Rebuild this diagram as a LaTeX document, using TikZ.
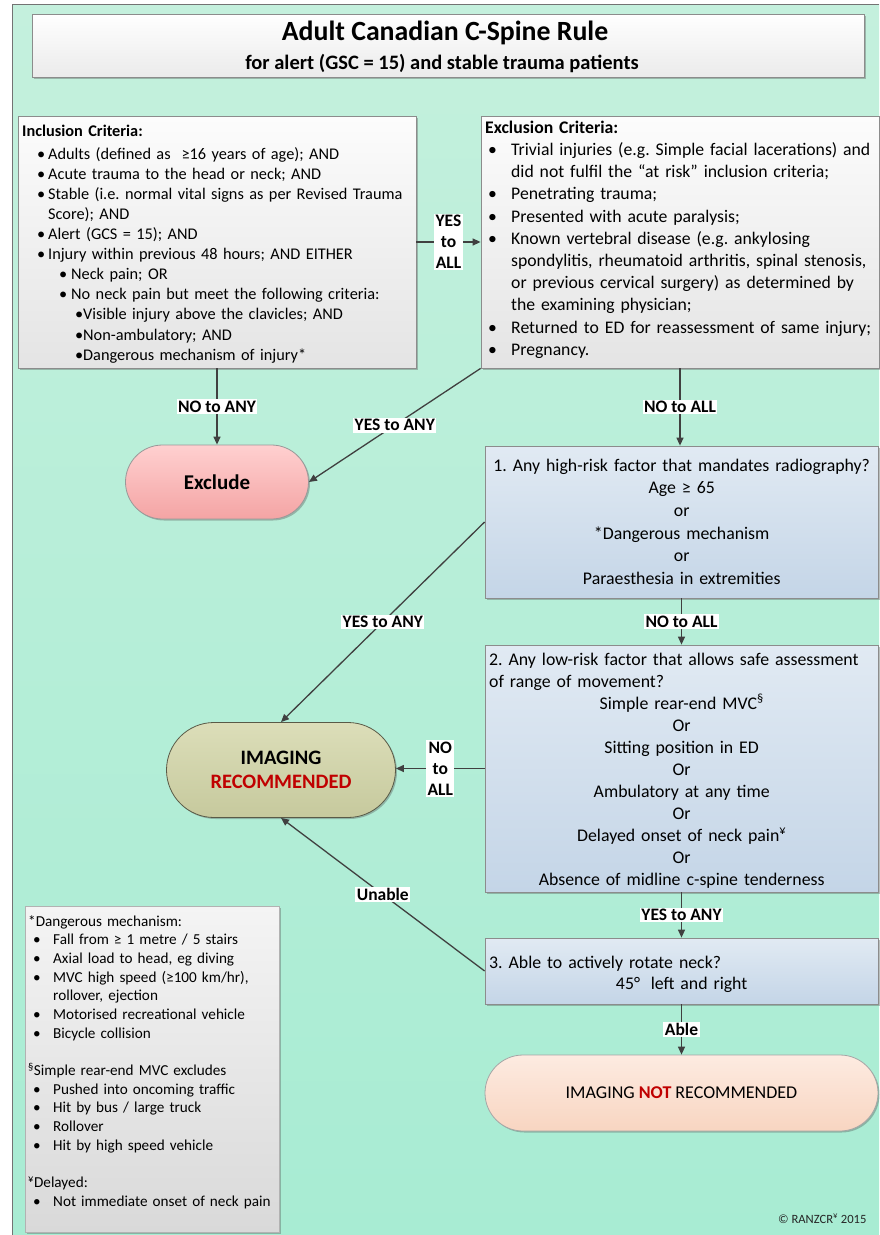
\documentclass[tikz,border=0pt]{standalone}
\usepackage{fontspec}
\setmainfont{Carlito}
\usetikzlibrary{arrows.meta,shapes.misc,shadows}
\definecolor{bgtop}{HTML}{C4F0DD}
\definecolor{bgbot}{HTML}{A8ECD3}
\definecolor{arrowc}{HTML}{404040}
\definecolor{recred}{HTML}{C00000}
\definecolor{graytop}{HTML}{FCFCFC}
\definecolor{graybot}{HTML}{E4E4E4}
\definecolor{bluetop}{HTML}{E1EAF3}
\definecolor{bluebot}{HTML}{C4D5E7}
\definecolor{pinktop}{HTML}{FFD0D0}
\definecolor{pinkbot}{HTML}{F4A4A4}
\definecolor{olivetop}{HTML}{DCDEB9}
\definecolor{olivebot}{HTML}{C6C99D}
\definecolor{peachtop}{HTML}{FDEBE1}
\definecolor{peachbot}{HTML}{F8D5C1}
\definecolor{fntop}{HTML}{F4F4F4}
\definecolor{fnbot}{HTML}{D9D9D9}
\newcommand\Ln[1]{\makebox[\linewidth][l]{#1}}
\newcommand\Cn[1]{\makebox[\linewidth][c]{#1}}
\newcommand\Bu[3]{\makebox[\linewidth][l]{\hspace*{#1}\makebox[#2][l]{\textbullet}#3}}
\newcommand\Ind[2]{\makebox[\linewidth][l]{\hspace*{#1}#2}}
\tikzset{
 shadowed/.style={drop shadow={shadow xshift=1.5pt,shadow yshift=-1.5pt,opacity=.35,fill=black!70}},
 panel/.style={rectangle, draw=black!45, line width=0.8pt, top color=graytop, bottom color=graybot, shadowed, inner sep=0pt},
 qbox/.style={rectangle, draw=black!45, line width=0.8pt, top color=bluetop, bottom color=bluebot, shadowed, inner sep=0pt},
 pill/.style={rounded rectangle, line width=0.8pt, inner sep=0pt, shadowed},
 txt/.style={anchor=north west, inner sep=0pt, align=left},
 arr/.style={draw=arrowc, line width=1.3pt, -{Triangle[length=8pt,width=7pt]}},
 lbl/.style={fill=white, inner sep=1.5pt, align=center, font=\bfseries\fontsize{17.5}{21}\selectfont, text=black},
}
\begin{document}
\frenchspacing
\begin{tikzpicture}[x=1pt,y=-1pt]
\useasboundingbox (0,0) rectangle (879,1235);
\fill[white] (0,0) rectangle (879,1235);
\shade[top color=bgtop,bottom color=bgbot] (12,4) rectangle (879,1235);
\draw[black!55, line width=0.8pt] (879,4) -- (12,4) -- (12,1235);

% title
\node[panel, minimum width=832pt, minimum height=63pt, top color=white, bottom color=black!8] (titlebox) at (448,45.5) {};
\node[anchor=base, font=\bfseries\fontsize{27.8}{30}\selectfont] (title) at (445,40) {Adult Canadian C-Spine Rule};
\node[anchor=base, font=\bfseries\fontsize{20.5}{24}\selectfont] (subtitle) at (442,69.5) {for alert (GSC = 15) and stable trauma patients};

% inclusion
\node[panel, minimum width=398pt, minimum height=252pt] (incl) at (217,242) {};
\node[txt, text width=390pt, font=\fontsize{16.3}{20.1}\selectfont] (incltxt) at (22,122) {%
\Ln{\rule{0pt}{14pt}\textbf{Inclusion Criteria:}}\\[2.8pt]
\Bu{15pt}{11pt}{Adults (defined as\ \ ≥16 years of age); AND}\\
\Bu{15pt}{11pt}{Acute trauma to the head or neck; AND}\\
\Bu{15pt}{11pt}{Stable (i.e. normal vital signs as per Revised Trauma}\\
\Ind{26pt}{Score); AND}\\
\Bu{15pt}{11pt}{Alert (GCS = 15); AND}\\
\Bu{15pt}{11pt}{Injury within previous 48 hours; AND EITHER}\\
\Bu{37pt}{12pt}{Neck pain; OR}\\
\Bu{37pt}{12pt}{No neck pain but meet the following criteria:}\\
\Bu{53pt}{8pt}{Visible injury above the clavicles; AND}\\
\Bu{53pt}{8pt}{Non-ambulatory; AND}\\
\Bu{53pt}{8pt}{Dangerous mechanism of injury*}};

% exclusion
\node[panel, minimum width=398pt, minimum height=252pt] (excl) at (680,242) {};
\node[txt, text width=390pt, font=\fontsize{17.7}{22.2}\selectfont] (excltxt) at (485,118) {%
\Ln{\rule{0pt}{15pt}\textbf{Exclusion Criteria:}}\\
\Bu{3pt}{23pt}{Trivial injuries (e.g. Simple facial lacerations) and}\\
\Ind{26pt}{did not fulfil the “at risk” inclusion criteria;}\\
\Bu{3pt}{23pt}{Penetrating trauma;}\\
\Bu{3pt}{23pt}{Presented with acute paralysis;}\\
\Bu{3pt}{23pt}{Known vertebral disease (e.g. ankylosing}\\
\Ind{26pt}{spondylitis, rheumatoid arthritis, spinal stenosis,}\\
\Ind{26pt}{or previous cervical surgery) as determined by}\\
\Ind{26pt}{the examining physician;}\\
\Bu{3pt}{23pt}{Returned to ED for reassessment of same injury;}\\
\Bu{3pt}{23pt}{Pregnancy.}};

% question boxes
\node[qbox, minimum width=393pt, minimum height=152pt] (q1) at (681.5,522) {};
\node[txt, text width=385pt, font=\fontsize{17.8}{22.6}\selectfont] (q1txt) at (489,456) {%
\Cn{\rule{0pt}{15pt}1. Any high-risk factor that mandates radiography?}\\
\Cn{Age ≥ 65}\\
\Cn{or}\\
\Cn{*Dangerous mechanism}\\
\Cn{or}\\
\Cn{Paraesthesia in extremities}};

\node[qbox, minimum width=393pt, minimum height=247pt] (q2) at (681.5,768.5) {};
\node[txt, text width=385pt, font=\fontsize{17.8}{22}\selectfont] (q2txt) at (489,650) {%
\Ln{\rule{0pt}{15pt}2. Any low-risk factor that allows safe assessment}\\
\Ln{of range of movement?}\\
\Cn{Simple rear-end MVC\textsuperscript{§}}\\
\Cn{Or}\\
\Cn{Sitting position in ED}\\
\Cn{Or}\\
\Cn{Ambulatory at any time}\\
\Cn{Or}\\
\Cn{Delayed onset of neck pain\textsuperscript{¥}}\\
\Cn{Or}\\
\Cn{Absence of midline c-spine tenderness}};

\node[qbox, minimum width=393pt, minimum height=66pt] (q3) at (681.5,971) {};
\node[txt, text width=385pt, font=\fontsize{17.8}{21}\selectfont] (q3txt) at (489,953) {%
\Ln{\rule{0pt}{15pt}3. Able to actively rotate neck?}\\
\Cn{45°\hspace{0.6em}left and right}};

% footnote box
\node[rectangle, draw=black!30, line width=0.8pt, top color=fntop, bottom color=fnbot, shadowed, minimum width=254pt, minimum height=326pt, inner sep=0pt] (foot) at (152,1069) {};
\node[txt, text width=248pt, font=\fontsize{15.2}{18.67}\selectfont] (foottxt) at (28,913) {%
\Ln{\rule{0pt}{13pt}*Dangerous mechanism:}\\
\Bu{5pt}{20pt}{Fall from ≥ 1 metre / 5 stairs}\\
\Bu{5pt}{20pt}{Axial load to head, eg diving}\\
\Bu{5pt}{20pt}{MVC high speed (≥100 km/hr),}\\
\Ind{25pt}{rollover, ejection}\\
\Bu{5pt}{20pt}{Motorised recreational vehicle}\\
\Bu{5pt}{20pt}{Bicycle collision}\\
\Ln{}\\
\Ln{\textsuperscript{§}Simple rear-end MVC excludes}\\
\Bu{5pt}{20pt}{Pushed into oncoming traffic}\\
\Bu{5pt}{20pt}{Hit by bus / large truck}\\
\Bu{5pt}{20pt}{Rollover}\\
\Bu{5pt}{20pt}{Hit by high speed vehicle}\\
\Ln{}\\
\Ln{\textsuperscript{¥}Delayed:}\\
\Bu{5pt}{20pt}{Not immediate onset of neck pain}};

% terminal pills
\node[pill, draw=black!40, top color=pinktop, bottom color=pinkbot, minimum width=183pt, minimum height=74pt, font=\bfseries\fontsize{21}{24}\selectfont] (exclude) at (217,482) {Exclude};
\node[pill, draw=black!55!olivebot, top color=olivetop, bottom color=olivebot, minimum width=229pt, minimum height=95pt, align=center, font=\bfseries\fontsize{20.5}{24}\selectfont] (img) at (281,770) {IMAGING\\\textcolor{recred}{RECOMMENDED}};
\node[pill, draw=black!35, top color=peachtop, bottom color=peachbot, minimum width=393pt, minimum height=76pt, font=\fontsize{18}{22}\selectfont] (notrec) at (681.5,1093) {IMAGING \textcolor{recred}{\textbf{NOT}} RECOMMENDED};

% connectors
\draw[arr] (incl.east) -- node[lbl]{YES\\to\\ALL} (excl.west);
\draw[arr] (incl.south) -- node[lbl]{NO to ANY} (exclude.north);
\draw[arr] (excl.south west) -- node[lbl]{YES to ANY} (exclude.east);
\draw[arr] (excl.south) -- node[lbl]{NO to ALL} (excl.south |- q1.north);
\draw[arr] (q1.west) -- node[lbl]{YES to ANY} (img.north);
\draw[arr] (q1.south) -- node[lbl]{NO to ALL} (q2.north);
\draw[arr] (q2.west) -- node[lbl]{NO\\to\\ALL} (q2.west -| img.east);
\draw[arr] (q2.south) -- node[lbl]{YES to ANY} (q3.north);
\draw[arr] (q3.west) -- node[lbl]{Unable} (img.south);
\draw[arr] (q3.south) -- node[lbl]{Able} (notrec.north);

\node[anchor=base east, font=\fontsize{12.6}{14}\selectfont, text=black!85] (copy) at (870,1223) {© RANZCR\textsuperscript{¥} 2015};
\end{tikzpicture}
\end{document}
